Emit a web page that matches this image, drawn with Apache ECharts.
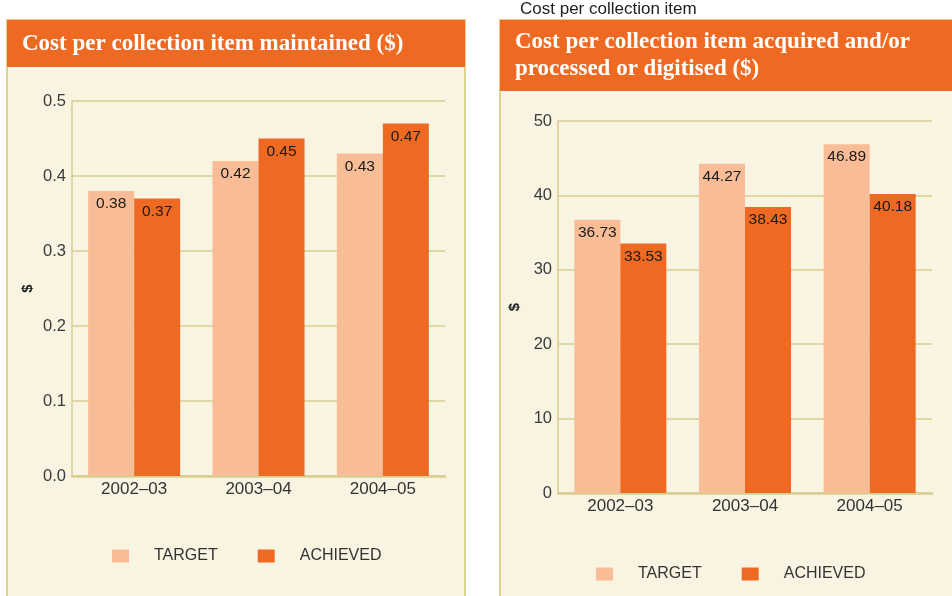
<!DOCTYPE html>
<html>
<head>
<meta charset="utf-8">
<script src="https://cdn.jsdelivr.net/npm/echarts@6/dist/echarts.min.js"></script>
<style>
  html, body { margin: 0; padding: 0; background: #fff; }
  #chart { width: 952px; height: 596px; }
</style>
</head>
<body>
<div id="chart"></div>
<script>
// categories and values
const categories = ['2002–03', '2003–04', '2004–05'];
const seriesNames = ['TARGET', 'ACHIEVED'];

const maintainedTarget = [0.38, 0.42, 0.43];
const maintainedAchieved = [0.37, 0.45, 0.47];

const acquiredTarget = [36.73, 44.27, 46.89];
const acquiredAchieved = [33.53, 38.43, 40.18];

// y axis ticks: [min, max, step]
const maintainedTicks = [0, 0.5, 0.1];
const acquiredTicks = [0, 50, 10];

const titles = [
  'Cost per collection item maintained ($)',
  'Cost per collection item acquired and/or\nprocessed or digitised ($)'
];
const overTitle = 'Cost per collection item';

const ORANGE = '#ee6a23';
const PEACH = '#f8bd96';
const CREAM = '#f9f3e2';
const KHAKI = '#d8ce92';
const BORDER = '#dcd38e';
const SANS = "'Liberation Sans', Arial, sans-serif";
const SERIF = "'Liberation Serif', 'DejaVu Serif', serif";

const chart = echarts.init(document.getElementById('chart'));

function yAxis(gridIndex, ticks, digits, nameGap) {
  return {
    type: 'value',
    gridIndex: gridIndex,
    min: ticks[0],
    max: ticks[1],
    interval: ticks[2],
    name: '$',
    nameLocation: 'middle',
    nameGap: nameGap,
    nameTextStyle: { color: '#222', fontSize: 15, fontWeight: 'bold', fontFamily: SANS },
    axisLine: { show: true, lineStyle: { color: KHAKI, width: 1.5 } },
    axisTick: { show: false },
    axisLabel: {
      color: '#3a3a3a', fontSize: 16.5, fontFamily: SANS, margin: 6,
      formatter: (v) => v.toFixed(digits)
    },
    splitLine: { lineStyle: { color: KHAKI, width: 1.5 } }
  };
}

function xAxis(gridIndex) {
  return {
    type: 'category',
    gridIndex: gridIndex,
    data: categories,
    axisLine: { lineStyle: { color: KHAKI, width: 2.5 } },
    axisTick: { show: false },
    axisLabel: { color: '#333', fontSize: 17, fontFamily: SANS, margin: 5 }
  };
}

function bars(name, data, color, axisIndex) {
  return {
    name: name,
    type: 'bar',
    xAxisIndex: axisIndex,
    yAxisIndex: axisIndex,
    data: data,
    barWidth: 46,
    barGap: '0%',
    itemStyle: { color: color },
    label: {
      show: true,
      position: 'insideTop',
      distance: 5,
      color: '#1a1a1a',
      fontSize: 15.5,
      fontFamily: SANS
    }
  };
}

function legend(left, top) {
  return {
    left: left,
    top: top,
    padding: 0,
    icon: 'rect',
    itemWidth: 17,
    itemHeight: 13,
    itemGap: 40,
    data: seriesNames,
    textStyle: { color: '#333', fontSize: 16, fontFamily: SANS, padding: [0, 0, 0, 20] }
  };
}

const option = {
  animation: false,
  backgroundColor: '#fff',
  graphic: [
    { type: 'rect', z: -10, shape: { x: 7, y: 20, width: 458, height: 590 },
      style: { fill: CREAM, stroke: BORDER, lineWidth: 2 } },
    { type: 'rect', z: -9, shape: { x: 7, y: 20, width: 458, height: 47 },
      style: { fill: ORANGE } },
    { type: 'rect', z: -10, shape: { x: 500, y: 20, width: 470, height: 590 },
      style: { fill: CREAM, stroke: BORDER, lineWidth: 2 } },
    { type: 'rect', z: -9, shape: { x: 500, y: 20, width: 470, height: 71 },
      style: { fill: ORANGE } }
  ],
  title: [
    { text: titles[0], left: 22, top: 31, padding: 0,
      textStyle: { color: '#fff', fontSize: 23, fontWeight: 'bold', fontFamily: SERIF, lineHeight: 27 } },
    { text: titles[1], left: 515, top: 29, padding: 0,
      textStyle: { color: '#fff', fontSize: 23, fontWeight: 'bold', fontFamily: SERIF, lineHeight: 27 } },
    { text: overTitle, left: 520, top: 0, padding: 0,
      textStyle: { color: '#222', fontSize: 17, fontWeight: 'normal', fontFamily: SANS, lineHeight: 18 } }
  ],
  legend: [legend(112, 548), legend(596, 566)],
  grid: [
    { left: 72, right: 507, top: 101, bottom: 120 },
    { left: 558, right: 20, top: 121, bottom: 103 }
  ],
  xAxis: [xAxis(0), xAxis(1)],
  yAxis: [yAxis(0, maintainedTicks, 1, 37), yAxis(1, acquiredTicks, 0, 36)],
  series: [
    bars(seriesNames[0], maintainedTarget, PEACH, 0),
    bars(seriesNames[1], maintainedAchieved, ORANGE, 0),
    bars(seriesNames[0], acquiredTarget, PEACH, 1),
    bars(seriesNames[1], acquiredAchieved, ORANGE, 1)
  ]
};

chart.setOption(option);
</script>
</body>
</html>
